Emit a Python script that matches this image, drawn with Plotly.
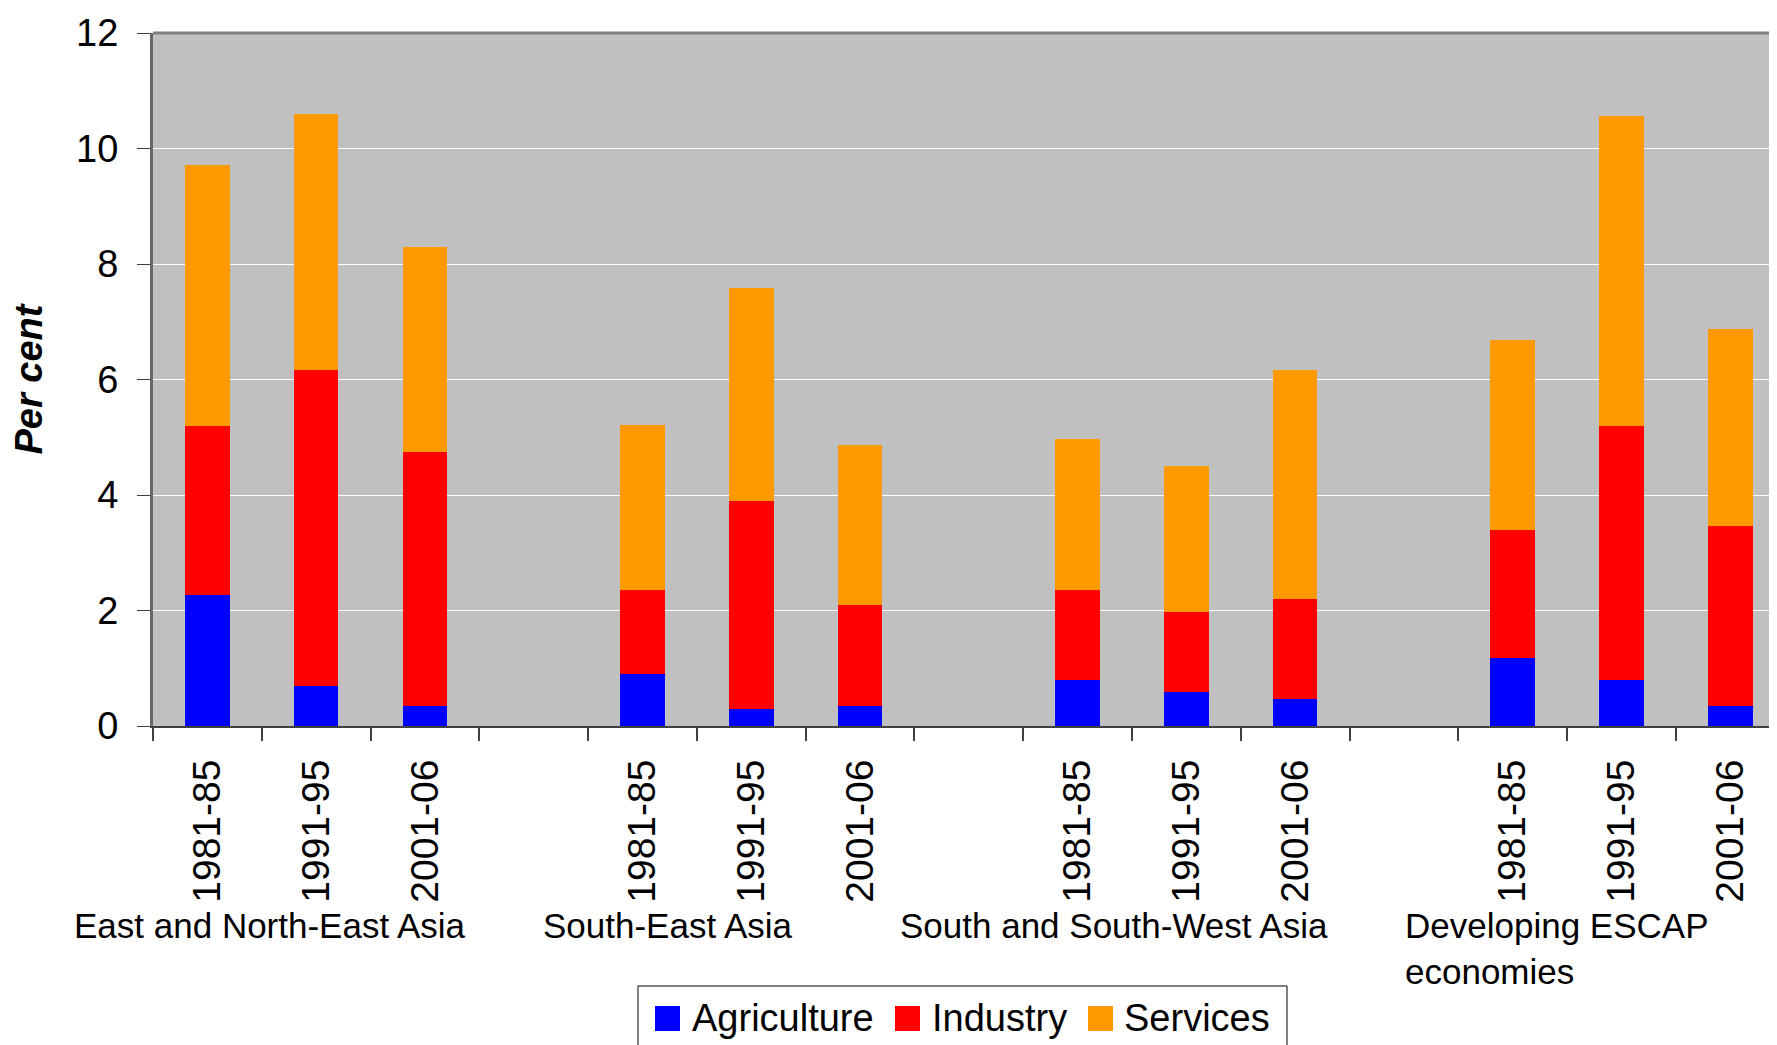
import plotly.graph_objects as go

groups = ["East and North-East Asia", "South-East Asia", "South and South-West Asia", "Developing ESCAP<br>economies"]
periods = ["1981-85", "1991-95", "2001-06"]

# values per bar, in order group by group (3 periods each)
agriculture = [2.26, 0.69, 0.35, 0.90, 0.29, 0.35, 0.79, 0.59, 0.47, 1.18, 0.79, 0.35]
industry    = [2.93, 5.48, 4.40, 1.46, 3.60, 1.75, 1.57, 1.39, 1.73, 2.22, 4.40, 3.11]
services    = [4.52, 4.42, 3.54, 2.85, 3.69, 2.77, 2.61, 2.52, 3.97, 3.28, 5.38, 3.42]

series_names = ["Agriculture", "Industry", "Services"]
series_colors = ["#0000FF", "#FF0000", "#FF9900"]

# category slot positions: each group takes 3 slots plus an empty slot
xpos = [g * 4 + p for g in range(len(groups)) for p in range(len(periods))]
xlabels = [p for g in groups for p in periods]

FONT = "Arial, Liberation Sans, sans-serif"

W, H = 1769, 1037
ML, MT, MB = 145, 25, 319
PW, PH = W - ML, H - MT - MB


def px(x):
    return (x - ML) / PW


def py(y):
    return (H - MB - y) / PH


fig = go.Figure()
for name, vals, col in zip(series_names, [agriculture, industry, services], series_colors):
    fig.add_trace(go.Bar(x=xpos, y=vals, name=name, marker=dict(color=col, line=dict(width=0)),
                         width=0.41, showlegend=False))

fig.update_layout(
    barmode="stack",
    width=W, height=H,
    margin=dict(l=ML, r=0, t=MT, b=MB, autoexpand=False),
    paper_bgcolor="white",
    plot_bgcolor="#C0C0C0",
    font=dict(family=FONT, size=38, color="black"),
    showlegend=False,
    xaxis=dict(range=[-0.5, 14.43], tickmode="array", tickvals=xpos, ticktext=xlabels,
               tickangle=-90, ticks="", showgrid=False, zeroline=False,
               showline=True, linecolor="#404040", linewidth=2,
               ticklabelstandoff=16,
               minor=dict(tickmode="linear", tick0=-0.5, dtick=1, ticks="outside",
                          ticklen=13, tickwidth=2, tickcolor="#404040", showgrid=False),
               tickfont=dict(size=39)),
    yaxis=dict(range=[0, 12], tickmode="linear", tick0=0, dtick=2,
               ticks="outside", ticklen=13, tickwidth=1, tickcolor="#404040",
               showline=True, linecolor="#686868", linewidth=3,
               gridcolor="white", gridwidth=1, zeroline=False,
               ticklabelstandoff=11, tickfont=dict(size=38),
               title=dict(text="<b><i>Per cent</i></b>", font=dict(size=38), standoff=41)),
)

# top border of plot area
fig.add_shape(type="line", xref="paper", yref="paper", x0=0, x1=1, y0=1, y1=1,
              line=dict(color="#808080", width=3))

label_x = [-0.050, 0.239, 0.459, 0.770]
for gname, lx in zip(groups, label_x):
    fig.add_annotation(text=gname, x=lx, xref="paper", xanchor="left", y=-0.257, yref="paper",
                       yanchor="top", showarrow=False, align="left", font=dict(size=35))

# legend box (bottom edge falls below the page)
fig.add_shape(type="rect", xref="paper", yref="paper", x0=px(630), x1=px(1279), y0=py(978), y1=py(1070),
              line=dict(color="black", width=1), fillcolor="white", layer="above")
sw_x = [647, 887, 1080]
tx_x = [682, 922, 1114]
for name, col, sx, tx in zip(series_names, series_colors, sw_x, tx_x):
    fig.add_shape(type="rect", xref="paper", yref="paper", x0=px(sx), x1=px(sx + 25),
                  y0=py(998), y1=py(1023), line=dict(width=0), fillcolor=col, layer="above")
    fig.add_annotation(text=name, x=px(tx), xref="paper", xanchor="left", y=py(1010), yref="paper",
                       yanchor="middle", showarrow=False, font=dict(size=38))

fig.write_html("out.html")
